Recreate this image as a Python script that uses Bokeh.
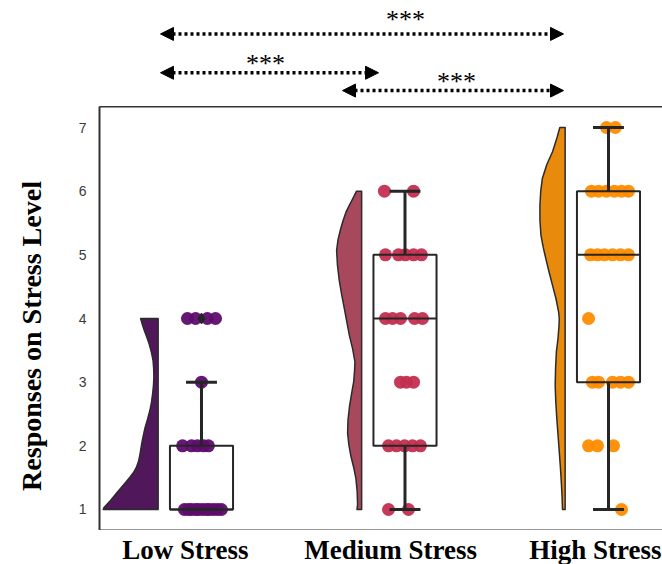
import numpy as np
from bokeh.plotting import figure
from bokeh.layouts import column
from bokeh.models import (Range1d, LinearAxis, FixedTicker, Arrow, NormalHead)
from bokeh.core.properties import value
from bokeh.embed import file_html
from bokeh.resources import INLINE

# ---------------- data ----------------
categories = ["Low Stress", "Medium Stress", "High Stress"]
category_x = [-0.079, 0.929, 1.935]
y_ticks = [1, 2, 3, 4, 5, 6, 7]

# individual responses and their horizontal jitter (in group units)
low_resp = [4, 4, 4, 4, 3, 2, 2, 2, 2, 2, 1, 1, 1, 1, 1, 1, 1, 1, 1, 1, 1]
low_jit = [-0.069, -0.029, 0.029, 0.069, 0.0, -0.093, -0.049, -0.020, 0.010, 0.034,
           -0.084, -0.064, -0.049, -0.029, -0.015, 0.005, 0.025, 0.039, 0.059, 0.079, 0.098]

med_resp = [6, 6, 5, 5, 5, 5, 5, 4, 4, 4, 4, 4, 3, 3, 3, 2, 2, 2, 2, 2, 1, 1]
med_jit = [-0.101, 0.042, -0.096, -0.032, 0.002, 0.042, 0.081,
           -0.096, -0.061, -0.022, 0.047, 0.086, -0.022, 0.007, 0.042,
           -0.081, -0.042, -0.002, 0.037, 0.076, -0.081, 0.017]

high_resp = [7, 7, 6, 6, 6, 6, 6, 6, 5, 5, 5, 5, 5, 5, 4, 3, 3, 3, 3, 3, 2, 2, 2, 1]
high_jit = [-0.010, 0.034, -0.084, -0.049, -0.010, 0.029, 0.064, 0.098,
            -0.088, -0.054, -0.020, 0.020, 0.059, 0.098, -0.098,
            -0.079, -0.049, 0.020, 0.059, 0.098, -0.098, -0.054, 0.025, 0.064]

# box statistics
box_q1 = [1, 2, 3]
box_median = [1, 4, 5]
box_q3 = [2, 5, 6]
whisker_lo = [1, 1, 1]
whisker_hi = [3, 6, 7]
outlier_group = [0]
outlier_value = [4]

# half-violin density profiles (y level, half width in group units)
low_vy = [1.0, 1.03, 1.06, 1.12, 1.19, 1.27, 1.35, 1.43, 1.51, 1.58, 1.66, 1.76, 1.87, 2.03,
          2.16, 2.29, 2.42, 2.55, 2.68, 2.82, 2.95, 3.08, 3.21, 3.34, 3.47, 3.60, 3.71, 3.81, 3.91, 4.0]
low_vw = [0.270, 0.266, 0.258, 0.240, 0.222, 0.201, 0.180, 0.159, 0.138, 0.121, 0.107, 0.096,
          0.089, 0.081, 0.073, 0.064, 0.052, 0.041, 0.033, 0.027, 0.023, 0.021, 0.022, 0.025,
          0.033, 0.044, 0.056, 0.068, 0.078, 0.086]
med_vy = [1.0, 1.08, 1.28, 1.48, 1.66, 1.84, 2.02, 2.2, 2.41, 2.61, 2.81, 3.01, 3.17, 3.32,
          3.52, 3.73, 3.93, 4.14, 4.37, 4.6, 4.84, 5.07, 5.24, 5.41, 5.54, 5.67, 5.76, 5.85, 5.93, 6.0]
med_vw = [0.023, 0.020, 0.022, 0.028, 0.039, 0.053, 0.063, 0.069, 0.067, 0.060, 0.050, 0.039,
          0.035, 0.033, 0.044, 0.060, 0.072, 0.084, 0.098, 0.110, 0.119, 0.123, 0.116, 0.103,
          0.091, 0.077, 0.063, 0.049, 0.036, 0.025]
high_vy = [1.0, 1.19, 1.38, 1.65, 1.91, 2.17, 2.43, 2.69, 2.95, 3.22, 3.48, 3.69, 3.89, 4.0,
           4.10, 4.31, 4.52, 4.73, 4.94, 5.12, 5.31, 5.55, 5.78, 6.0, 6.2, 6.42, 6.62, 6.75, 6.85, 7.0]
high_vw = [0.013, 0.015, 0.018, 0.023, 0.029, 0.035, 0.041, 0.046, 0.049, 0.047, 0.043, 0.035,
           0.030, 0.029, 0.032, 0.045, 0.062, 0.079, 0.095, 0.108, 0.119, 0.124, 0.124, 0.120,
           0.112, 0.090, 0.062, 0.049, 0.039, 0.026]

# significance comparisons (bracket arrows)
comp_x_start = [-0.2015, -0.2015, 0.693]
comp_x_end = [1.779, 0.870, 1.779]
comp_y = [8.47, 7.86, 7.58]
comp_text = ["***", "***", "***"]
comp_text_x = [1.002, 0.315, 1.253]
comp_text_y = [8.69, 8.00, 7.73]

# ---------------- style ----------------
violin_colors = ["#50175A", "#A8485C", "#E88A0C"]
point_colors = ["#5E0C6E", "#C32E4F", "#FF8C00"]
ink = "#262626"
frame_col = "#333333"
violin_offset = -0.213
box_half = 0.155
cap_half = 0.076
label_y = [0.607, 0.607, 0.607]

x_range = Range1d(-0.5012, 2.2654)


def strip(height, y_range):
    f = figure(width=662, height=height, output_backend="svg", toolbar_location=None,
               x_range=x_range, y_range=y_range,
               x_axis_location=None, y_axis_location=None,
               min_border_left=99, min_border_right=0, min_border_top=0,
               min_border_bottom=0, outline_line_color=None,
               background_fill_color="white", border_fill_color="white")
    f.grid.visible = False
    return f


def frame_line(ax):
    ax.ticker = FixedTicker(ticks=[])
    ax.major_label_text_font_size = "0px"
    ax.major_tick_line_color = None
    ax.minor_tick_line_color = None
    ax.major_tick_out = 0
    ax.major_tick_in = 0
    ax.minor_tick_out = 0
    ax.minor_tick_in = 0
    ax.major_label_standoff = 0
    ax.axis_label_standoff = 0
    ax.axis_line_color = frame_col
    ax.axis_line_width = 2
    return ax


# ---------- top strip: significance brackets ----------
top = strip(106, Range1d(7.33, 8.995))
for xs, xe, yy in zip(comp_x_start, comp_x_end, comp_y):
    top.add_layout(Arrow(x_start=xs, y_start=yy, x_end=xe, y_end=yy,
                         start=NormalHead(size=13, fill_color="black", line_color="black"),
                         end=NormalHead(size=13, fill_color="black", line_color="black"),
                         line_color="black", line_width=3.5, line_dash="3 3"))
top.text(x=comp_text_x, y=comp_text_y, text=comp_text, text_align="center",
         text_baseline="middle", text_font=value("Liberation Serif"),
         text_font_size="26px", text_color="black")

# ---------- main plot ----------
p = figure(width=662, height=424, output_backend="svg", toolbar_location=None,
           x_range=x_range, y_range=Range1d(0.67, 7.33),
           min_border_left=99, min_border_right=0, min_border_top=0,
           min_border_bottom=0, background_fill_color="white",
           border_fill_color="white", outline_line_color=None)
p.grid.visible = False

# y axis
p.yaxis.ticker = FixedTicker(ticks=y_ticks)
p.yaxis.major_tick_line_color = None
p.yaxis.minor_tick_line_color = None
p.yaxis.major_tick_out = 0
p.yaxis.axis_line_color = frame_col
p.yaxis.axis_line_width = 2
p.yaxis.major_label_text_font = "Liberation Sans"
p.yaxis.major_label_text_font_size = "14px"
p.yaxis.major_label_text_color = "#3a3a3a"
p.yaxis.major_label_standoff = 13
p.yaxis.axis_label = "Responses on Stress Level" + "\u00a0" * 5
p.yaxis.axis_label_text_font = "Liberation Serif"
p.yaxis.axis_label_text_font_style = "bold"
p.yaxis.axis_label_text_font_size = "28px"
p.yaxis.axis_label_text_color = "black"
p.yaxis.axis_label_standoff = 29

# bottom and top frame lines
frame_line(p.xaxis[0])
p.add_layout(frame_line(LinearAxis()), "above")

# half violins
vx, vy = [], []
for i, (ys, ws) in enumerate([(low_vy, low_vw), (med_vy, med_vw), (high_vy, high_vw)]):
    edge = i + violin_offset
    vx.append([edge] + [edge - w for w in ws] + [edge])
    vy.append([ys[0]] + list(ys) + [ys[-1]])
p.patches(vx, vy, fill_color=violin_colors, line_color="#2b2b2b", line_width=1.5,
          line_join="round")

# points
px, py, pc = [], [], []
for i, (resp, jit) in enumerate([(low_resp, low_jit), (med_resp, med_jit), (high_resp, high_jit)]):
    for r, j in zip(resp, jit):
        px.append(i + j)
        py.append(r)
        pc.append(point_colors[i])
p.scatter(x=px, y=py, size=13, fill_color=pc, line_color=None, fill_alpha=0.95)

# boxes
g = np.arange(len(categories))
p.quad(left=g - box_half, right=g + box_half, bottom=box_q1, top=box_q3,
       fill_color=None, line_color=ink, line_width=2)
p.segment(x0=g - box_half, x1=g + box_half, y0=box_median, y1=box_median,
          line_color=ink, line_width=2)
p.segment(x0=g, x1=g, y0=box_q3, y1=whisker_hi, line_color=ink, line_width=3)
p.segment(x0=g, x1=g, y0=box_q1, y1=whisker_lo, line_color=ink, line_width=3)
p.segment(x0=g - cap_half, x1=g + cap_half, y0=whisker_hi, y1=whisker_hi,
          line_color=ink, line_width=3)
p.segment(x0=g - cap_half, x1=g + cap_half, y0=whisker_lo, y1=whisker_lo,
          line_color=ink, line_width=3)
p.scatter(x=outlier_group, y=outlier_value, marker="diamond", size=11,
          fill_color=ink, line_color=ink)

# ---------- bottom strip: category names ----------
bottom = strip(34, Range1d(0.67 - 34 / 63.67, 0.67))
bottom.text(x=category_x, y=label_y, text=categories, text_align="center",
            text_baseline="top", text_font=value("Liberation Serif"),
            text_font_style="bold", text_font_size="27px", text_color="black")

layout = column(top, p, bottom, spacing=0)
open("out.html", "w").write(file_html(layout, INLINE))
